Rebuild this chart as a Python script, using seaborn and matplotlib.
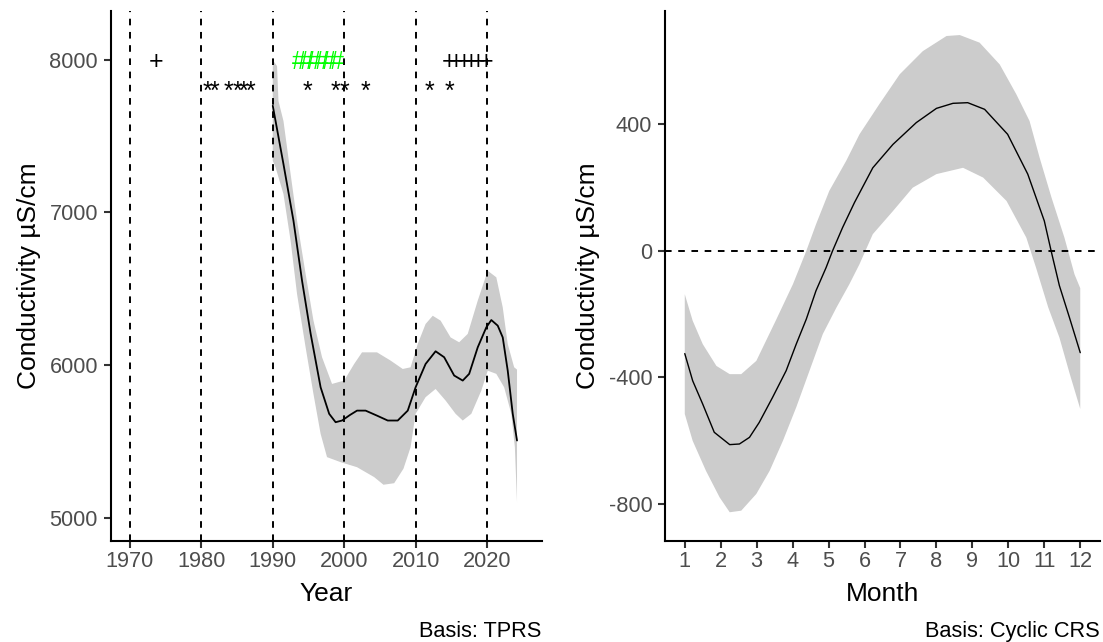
import numpy as np
import matplotlib
matplotlib.use("Agg")
import matplotlib.pyplot as plt
import seaborn as sns

# ---------------- long-term trend (TPRS smooth) ----------------
trend_year = [1990.0, 1991.5, 1992.9, 1994.1, 1995.3, 1996.7, 1997.9, 1998.8, 1999.7,
              2000.8, 2001.8, 2003.0, 2004.6, 2006.1, 2007.5, 2008.9, 2010.0, 2011.4,
              2012.8, 2014.0, 2015.4, 2016.6, 2017.5, 2018.7, 2019.9, 2020.6, 2021.5,
              2022.2, 2022.9, 2023.6, 2024.2]
trend_fit = [7700, 7317, 6946, 6553, 6206, 5854, 5680, 5625, 5636,
             5672, 5701, 5701, 5668, 5636, 5636, 5701, 5854, 6007,
             6090, 6051, 5931, 5898, 5942, 6116, 6247, 6295, 6258,
             6181, 5963, 5680, 5505]

trend_upper_year = [1990.0, 1990.6, 1990.8, 1991.5, 1992.5, 1993.4, 1994.6, 1995.7, 1996.9,
                    1998.3, 2000.0, 2001.4, 2002.5, 2004.6, 2006.5, 2008.2, 2009.3, 2010.3,
                    2011.4, 2012.4, 2013.5, 2014.9, 2016.1, 2017.3, 2018.7, 2020.1, 2021.3,
                    2022.2, 2022.9, 2023.8, 2024.2]
trend_upper = [8000, 7960, 7731, 7600, 7252, 6946, 6597, 6291, 6051,
               5876, 5898, 6007, 6083, 6083, 6029, 5974, 5985, 6138,
               6269, 6323, 6291, 6181, 6149, 6204, 6422, 6618, 6575,
               6378, 6138, 5985, 5970]

trend_lower_year = [1990.0, 1990.4, 1991.5, 1992.5, 1993.4, 1994.6, 1995.7, 1996.7, 1997.6,
                    1999.5, 2001.8, 2004.2, 2005.5, 2007.0, 2008.3, 2009.3, 2010.0, 2011.4,
                    2012.8, 2014.2, 2015.6, 2016.6, 2017.8, 2019.2, 2020.1, 2021.3, 2022.4,
                    2023.4, 2023.9, 2024.2]
trend_lower = [7339, 7295, 7121, 6815, 6466, 6116, 5810, 5549, 5396,
               5363, 5330, 5265, 5215, 5225, 5320, 5461, 5680, 5789,
               5843, 5767, 5680, 5636, 5680, 5832, 5963, 5942, 5854,
               5680, 5461, 5100]

decade_years = [1970, 1980, 1990, 2000, 2010, 2020]
year_ticks = [1970, 1980, 1990, 2000, 2010, 2020]
conductivity_ticks = [5000, 6000, 7000, 8000]

# symbol rows above the trend
plus_years = [1973.6, 2014.7, 2015.7, 2016.8, 2017.8, 2018.8, 2019.9]
plus_level = 8000
hash_years = [1993.7, 1994.7, 1995.8, 1996.8, 1997.9, 1998.9]
hash_level = 8000
star_years = [1980.8, 1981.9, 1983.8, 1985.0, 1985.9, 1986.9,
              1994.8, 1998.8, 2000.0, 2003.0, 2011.9, 2014.7]
star_level = 7800

# ---------------- seasonal cycle (cyclic CRS) ----------------
season_month = [1.0, 1.22, 1.5, 1.82, 2.25, 2.52, 2.80, 3.07, 3.44, 3.82, 4.10, 4.38,
                4.65, 4.93, 5.11, 5.39, 5.72, 6.23, 6.79, 7.44, 8.00, 8.46, 8.87, 9.34,
                9.98, 10.54, 11.00, 11.19, 11.42, 11.70, 12.0]
season_fit = [-325, -411, -485, -574, -613, -611, -590, -543, -464, -379, -295, -216,
              -126, -53, 0, 74, 153, 263, 337, 406, 451, 467, 469, 448,
              369, 243, 95, 0, -110, -211, -322]

season_upper_month = [1.0, 1.22, 1.5, 1.88, 2.25, 2.57, 2.99, 3.55, 4.01, 4.38, 4.65, 5.02,
                      5.49, 5.86, 6.41, 6.98, 7.62, 8.28, 8.65, 9.20, 9.76, 10.22, 10.59,
                      10.87, 11.20, 11.56, 11.84, 12.0]
season_upper = [-137, -221, -295, -364, -390, -390, -348, -216, -105, 0, 84, 190,
                285, 369, 464, 559, 632, 680, 683, 659, 590, 496, 411,
                295, 169, 42, -74, -118]

season_lower_month = [1.0, 1.22, 1.59, 1.97, 2.25, 2.57, 2.99, 3.36, 3.73, 4.10, 4.47, 4.84,
                      5.22, 5.58, 5.86, 6.23, 6.79, 7.34, 8.00, 8.74, 9.30, 9.95, 10.50,
                      10.77, 11.11, 11.42, 11.71, 12.0]
season_lower = [-516, -601, -696, -780, -827, -822, -769, -696, -601, -495, -379, -263,
                -179, -105, -42, 53, 126, 200, 243, 263, 232, 158, 42,
                -53, -179, -274, -390, -500]

month_ticks = list(range(1, 13))
effect_ticks = [-800, -400, 0, 400]

# ---------------- styling ----------------
sns.set_theme(style="ticks")
plt.rcParams["font.family"] = ["Liberation Sans", "DejaVu Sans"]
plt.rcParams["axes.unicode_minus"] = False

TICK_FS = 15.7
TITLE_FS = 19
GLYPH_FS = 18
RIBBON = "#CCCCCC"
DASH = (0, (3.4, 3.4))

fig = plt.figure(figsize=(11.03, 6.42), dpi=100)
ax1 = fig.add_axes([0.1003, 0.1573, 0.3911, 0.826])
ax2 = fig.add_axes([0.6029, 0.1573, 0.3944, 0.826])


def style_axes(ax):
    sns.despine(ax=ax)
    for side in ("left", "bottom"):
        ax.spines[side].set_linewidth(1.5)
        ax.spines[side].set_color("black")
    ax.tick_params(axis="both", length=4.8, width=1.5, color="#333333",
                   labelsize=TICK_FS, labelcolor="#4D4D4D")
    ax.tick_params(axis="x", pad=2.7)
    ax.tick_params(axis="y", pad=4.3)
    ax.grid(False)
    ax.set_facecolor("white")


def ribbon(ax, xu, yu, xl, yl):
    xs = np.r_[np.asarray(xu, float), np.asarray(xl, float)[::-1]]
    ys = np.r_[np.asarray(yu, float), np.asarray(yl, float)[::-1]]
    ax.fill(xs, ys, color=RIBBON, lw=0, zorder=1)


def glyph_row(ax, xs, level, glyph, color):
    # text symbols, shifted so the glyph's middle sits on the level
    for x in xs:
        ax.annotate(glyph, (x, level), xytext=(0, -0.353 * GLYPH_FS),
                    textcoords="offset points", ha="center", va="baseline",
                    fontsize=GLYPH_FS, color=color, zorder=5,
                    annotation_clip=False)


# ---- left panel: trend over years ----
ribbon(ax1, trend_upper_year, trend_upper, trend_lower_year, trend_lower)
for yr in decade_years:
    ax1.axvline(yr, color="black", lw=1.4, ls=DASH, zorder=2)
sns.lineplot(x=trend_year, y=trend_fit, ax=ax1, color="black", lw=1.3,
             estimator=None, sort=False, zorder=3)
glyph_row(ax1, plus_years, plus_level, "+", "black")
glyph_row(ax1, hash_years, hash_level, "#", "#00FF00")
glyph_row(ax1, star_years, star_level, "*", "black")

ax1.set_xlim(1967.3, 2027.7)
ax1.set_ylim(4846, 8323)
ax1.set_xticks(year_ticks)
ax1.set_yticks(conductivity_ticks)
style_axes(ax1)
ax1.set_xlabel("Year", fontsize=TITLE_FS, color="black", labelpad=7)
ax1.set_ylabel("Conductivity µS/cm", fontsize=TITLE_FS, color="black", labelpad=6.2)

# ---- right panel: seasonal cycle ----
ribbon(ax2, season_upper_month, season_upper, season_lower_month, season_lower)
ax2.axhline(0, color="black", lw=1.4, ls=DASH, zorder=2)
sns.lineplot(x=season_month, y=season_fit, ax=ax2, color="black", lw=1.0,
             estimator=None, sort=False, zorder=3)

ax2.set_xlim(0.45, 12.55)
ax2.set_ylim(-918, 760)
ax2.set_xticks(month_ticks)
ax2.set_yticks(effect_ticks)
style_axes(ax2)
ax2.set_xlabel("Month", fontsize=TITLE_FS, color="black", labelpad=7)
ax2.set_ylabel("Conductivity µS/cm", fontsize=TITLE_FS, color="black", labelpad=6.2)

# basis captions under each panel
fig.text(541 / 1103, 1 - 636.7 / 642, "Basis: TPRS", ha="right", va="baseline",
         fontsize=TICK_FS, color="black")
fig.text(1100 / 1103, 1 - 636.7 / 642, "Basis: Cyclic CRS", ha="right", va="baseline",
         fontsize=TICK_FS, color="black")

fig.savefig("out.png", dpi=100, facecolor="white")
